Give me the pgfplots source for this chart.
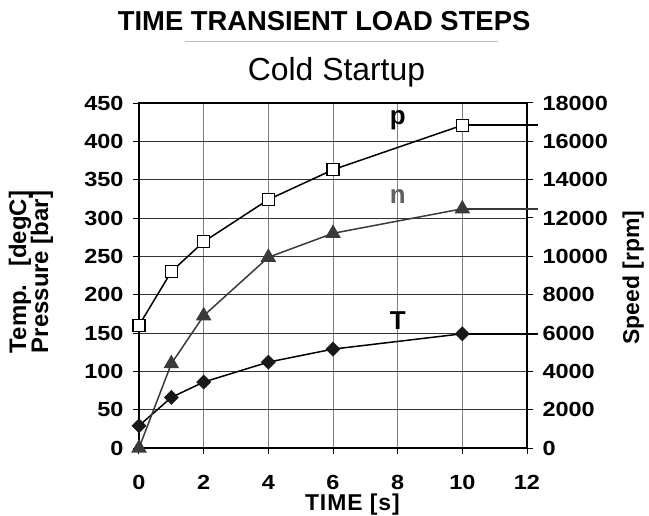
\documentclass[border=0pt]{standalone}
\usepackage{fontspec}
\setmainfont{Liberation Sans}
\newfontfamily\widefont{Liberation Sans}[FakeStretch=1.15, BoldFeatures={FakeStretch=1.15}]
\usepackage{calc}
\usepackage{pgfplots}
\pgfplotsset{compat=1.18}
\definecolor{ngray}{HTML}{3A3A3A}
\begin{document}
\begin{tikzpicture}
\useasboundingbox (-139bp,-68bp) rectangle (510bp,448bp);
\pgfplotsset{
  every axis/.append style={
    width=388bp, height=345bp, scale only axis,
    xmin=0, xmax=12, clip=false,
    /pgf/number format/assume math mode=true,
    /pgf/number format/set thousands separator={},
    scaled y ticks=false,
    tick align=outside, major tick length=6bp,
    every tick/.style={black, line width=1bp},
    ticklabel style={font=\fontsize{20.5}{23}\selectfont\widefont\bfseries},
    axis line style={black, line width=1.5bp},
  },
}
\begin{axis}[
  ymin=0, ymax=450, ytick={0,50,...,450}, xtick={0,2,...,12},
  xtick pos=bottom, ytick pos=left,
  grid=major, major x grid style={black!50, line width=0.9bp},
  major y grid style={black!80, line width=0.9bp},
  xticklabel style={yshift=-18bp},
  yticklabel style={xshift=-6bp},
  xlabel={\addfontfeatures{LetterSpace=4}TIME [s]},
  xlabel style={font=\fontsize{23}{25}\selectfont\bfseries, at={(axis description cs:0.55,-0.165)}, anchor=center},
  ylabel={\begin{tabular}{@{}c@{}}\makebox[\widthof{Pressure [bar]}][s]{Temp.\hfill[degC]}\\[-4bp]Pressure [bar]\end{tabular}},
  ylabel style={font=\fontsize{24}{26}\selectfont\bfseries, at={(axis description cs:-0.276,0.51)}, anchor=center},
]
\addplot[black, line width=1.5bp, mark=square*, mark size=6bp,
  mark options={fill=white, draw=black, line width=1.3bp}]
  coordinates {(0,160) (1,230) (2,269) (4,324) (6,363) (10,421)};
\addplot[black, line width=1.5bp] coordinates {(10,421) (12.35,421)};
\addplot[black, line width=1.5bp, mark=square*, mark size=5bp,
  mark options={rotate=45, fill=black!90, draw=black!90, line width=0.5bp}]
  coordinates {(0,29) (1,66) (2,86) (4,112) (6,129) (10,149)};
\addplot[black, line width=1.5bp] coordinates {(10,149) (12.35,149)};
\node[font=\fontsize{26}{28}\selectfont\bfseries, black] at (axis cs:8,427) {p};
\node[font=\fontsize{26}{28}\selectfont\bfseries, ngray!80] at (axis cs:8,328) {n};
\node[font=\fontsize{26}{28}\selectfont\bfseries, black] at (axis cs:8,166) {T};
\node[font=\fontsize{27.5}{29}\selectfont\bfseries] at (rel axis cs:0.477,1.238) {TIME TRANSIENT LOAD STEPS};
\draw[black!25, line width=1bp] (rel axis cs:0.1186,1.177) -- (rel axis cs:0.925,1.177);
\node[font=\fontsize{32}{34}\selectfont] at (rel axis cs:0.509,1.09) {Cold Startup};
\end{axis}
\begin{axis}[
  hide x axis, axis y line*=right,
  ymin=0, ymax=18000, ytick={0,2000,...,18000},
  yticklabel style={xshift=6bp},
  ylabel={Speed [rpm]},
  ylabel style={font=\fontsize{23}{25}\selectfont\bfseries, at={(axis description cs:1.274,0.494)}, anchor=center, inner sep=0pt},
]
\addplot[ngray, line width=1.5bp, mark=triangle*, mark size=7.5bp,
  mark options={fill=ngray, draw=ngray}]
  coordinates {(0,0) (1,4400) (2,6900) (4,9950) (6,11200) (10,12480)};
\addplot[ngray, line width=1.5bp] coordinates {(10,12480) (12.35,12480)};
\end{axis}
\end{tikzpicture}
\end{document}
